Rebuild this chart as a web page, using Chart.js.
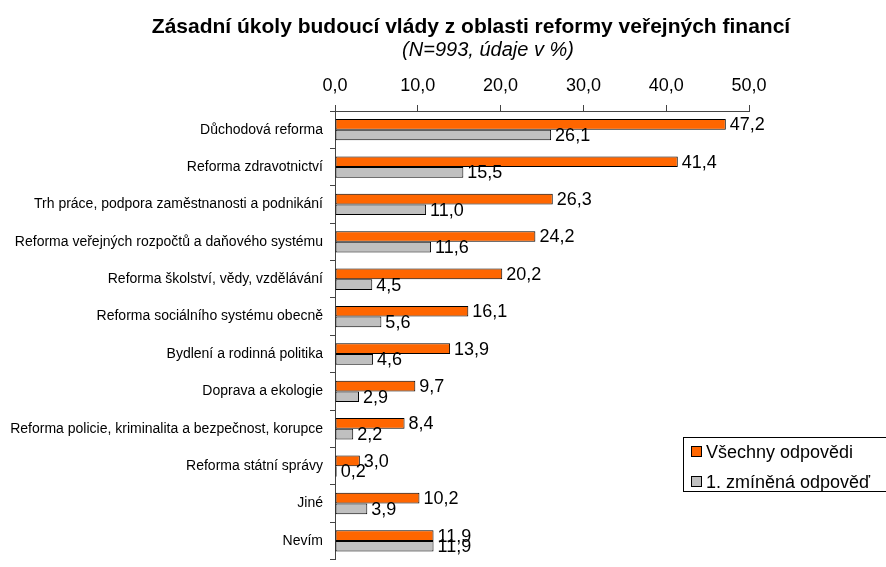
<!DOCTYPE html>
<html>
<head>
<meta charset="utf-8">
<script src="https://cdn.jsdelivr.net/npm/chart.js@4.4.1/dist/chart.umd.min.js"></script>
<style>
html, body { margin: 0; padding: 0; background: #fff; overflow: hidden; }
canvas { display: block; }
</style>
</head>
<body>
<canvas id="chart" width="886" height="575"></canvas>
<script>
// data
const categories = [
    "Důchodová reforma",
    "Reforma zdravotnictví",
    "Trh práce, podpora zaměstnanosti a podnikání",
    "Reforma veřejných rozpočtů a daňového systému",
    "Reforma školství, vědy, vzdělávání",
    "Reforma sociálního systému obecně",
    "Bydlení a rodinná politika",
    "Doprava a ekologie",
    "Reforma policie, kriminalita a bezpečnost, korupce",
    "Reforma státní správy",
    "Jiné",
    "Nevím"
];
const allAnswers = [47.2, 41.4, 26.3, 24.2, 20.2, 16.1, 13.9, 9.7, 8.4, 3.0, 10.2, 11.9];
const firstAnswers = [26.1, 15.5, 11.0, 11.6, 4.5, 5.6, 4.6, 2.9, 2.2, 0.2, 3.9, 11.9];
const seriesNames = ["Všechny odpovědi", "1. zmíněná odpověď"];
const xTicks = [0, 10, 20, 30, 40, 50];
const chartTitle = "Zásadní úkoly budoucí vlády z oblasti reformy veřejných financí";
const chartSubtitle = "(N=993, údaje v %)";

const FONT = "'Liberation Sans', Arial, sans-serif";
Chart.defaults.font.family = FONT;
Chart.defaults.color = "#000";

const fmt = v => v.toFixed(1).replace(".", ",");

// title + subtitle (not centred on the canvas in the original)
const titlePlugin = {
    id: "titles",
    afterDraw(chart) {
        const ctx = chart.ctx;
        ctx.save();
        ctx.fillStyle = "#000";
        ctx.textAlign = "center";
        ctx.textBaseline = "alphabetic";
        ctx.font = "bold 21px " + FONT;
        ctx.fillText(chartTitle, 471, 33);
        ctx.font = "italic 20px " + FONT;
        ctx.fillText(chartSubtitle, 488, 56);
        ctx.restore();
    }
};

// numbers at the end of every bar
const valueLabels = {
    id: "valueLabels",
    afterDatasetsDraw(chart) {
        const ctx = chart.ctx;
        ctx.save();
        ctx.fillStyle = "#000";
        ctx.font = "18px " + FONT;
        ctx.textAlign = "left";
        ctx.textBaseline = "middle";
        chart.data.datasets.forEach((ds, i) => {
            chart.getDatasetMeta(i).data.forEach((bar, j) => {
                ctx.fillText(fmt(ds.data[j]), bar.x + 4, bar.y + 1);
            });
        });
        ctx.restore();
    }
};

// boxed legend in the lower right
const boxLegend = {
    id: "boxLegend",
    afterDraw(chart) {
        const ctx = chart.ctx;
        const x0 = 683, y0 = 437;
        ctx.save();
        ctx.strokeStyle = "#000";
        ctx.lineWidth = 1;
        ctx.strokeRect(x0 + 0.5, y0 + 0.5, 220, 54);
        ctx.font = "18px " + FONT;
        ctx.textBaseline = "middle";
        chart.data.datasets.forEach((ds, i) => {
            const cy = y0 + 15 + i * 30;
            ctx.fillStyle = ds.backgroundColor;
            ctx.fillRect(x0 + 8, cy - 6, 11, 11);
            ctx.strokeStyle = "#000";
            ctx.strokeRect(x0 + 8.5, cy - 5.5, 10, 10);
            ctx.fillStyle = "#000";
            ctx.fillText(ds.label, x0 + 23, cy + 1);
        });
        ctx.restore();
    }
};

new Chart(document.getElementById("chart"), {
    type: "bar",
    data: {
        labels: categories,
        datasets: [
            {
                label: seriesNames[0],
                data: allAnswers,
                backgroundColor: "#FF6600",
                borderColor: "#000",
                borderWidth: 1,
                borderSkipped: false
            },
            {
                label: seriesNames[1],
                data: firstAnswers,
                backgroundColor: "#C0C0C0",
                borderColor: "#000",
                borderWidth: 1,
                borderSkipped: false
            }
        ]
    },
    options: {
        indexAxis: "y",
        responsive: false,
        animation: false,
        datasets: {
            bar: { categoryPercentage: 0.57, barPercentage: 1.0 }
        },
        layout: {
            padding: { top: 60, right: 137, bottom: 2, left: 0 }
        },
        plugins: {
            legend: { display: false },
            title: { display: false },
            tooltip: { enabled: false }
        },
        scales: {
            x: {
                position: "top",
                min: 0,
                max: 50,
                afterFit: s => { s.height = 51; },
                afterBuildTicks: s => { s.ticks = xTicks.map(v => ({ value: v })); },
                ticks: {
                    font: { size: 18 },
                    padding: 8,
                    callback: v => fmt(v)
                },
                grid: {
                    drawOnChartArea: false,
                    tickLength: 6,
                    color: "#444"
                },
                border: { color: "#444" }
            },
            y: {
                afterFit: s => { s.width = 335; },
                ticks: {
                    font: { size: 14 },
                    padding: 7
                },
                grid: {
                    drawOnChartArea: false,
                    tickLength: 5,
                    color: "#444"
                },
                border: { color: "#444" }
            }
        }
    },
    plugins: [titlePlugin, valueLabels, boxLegend]
});
</script>
</body>
</html>
